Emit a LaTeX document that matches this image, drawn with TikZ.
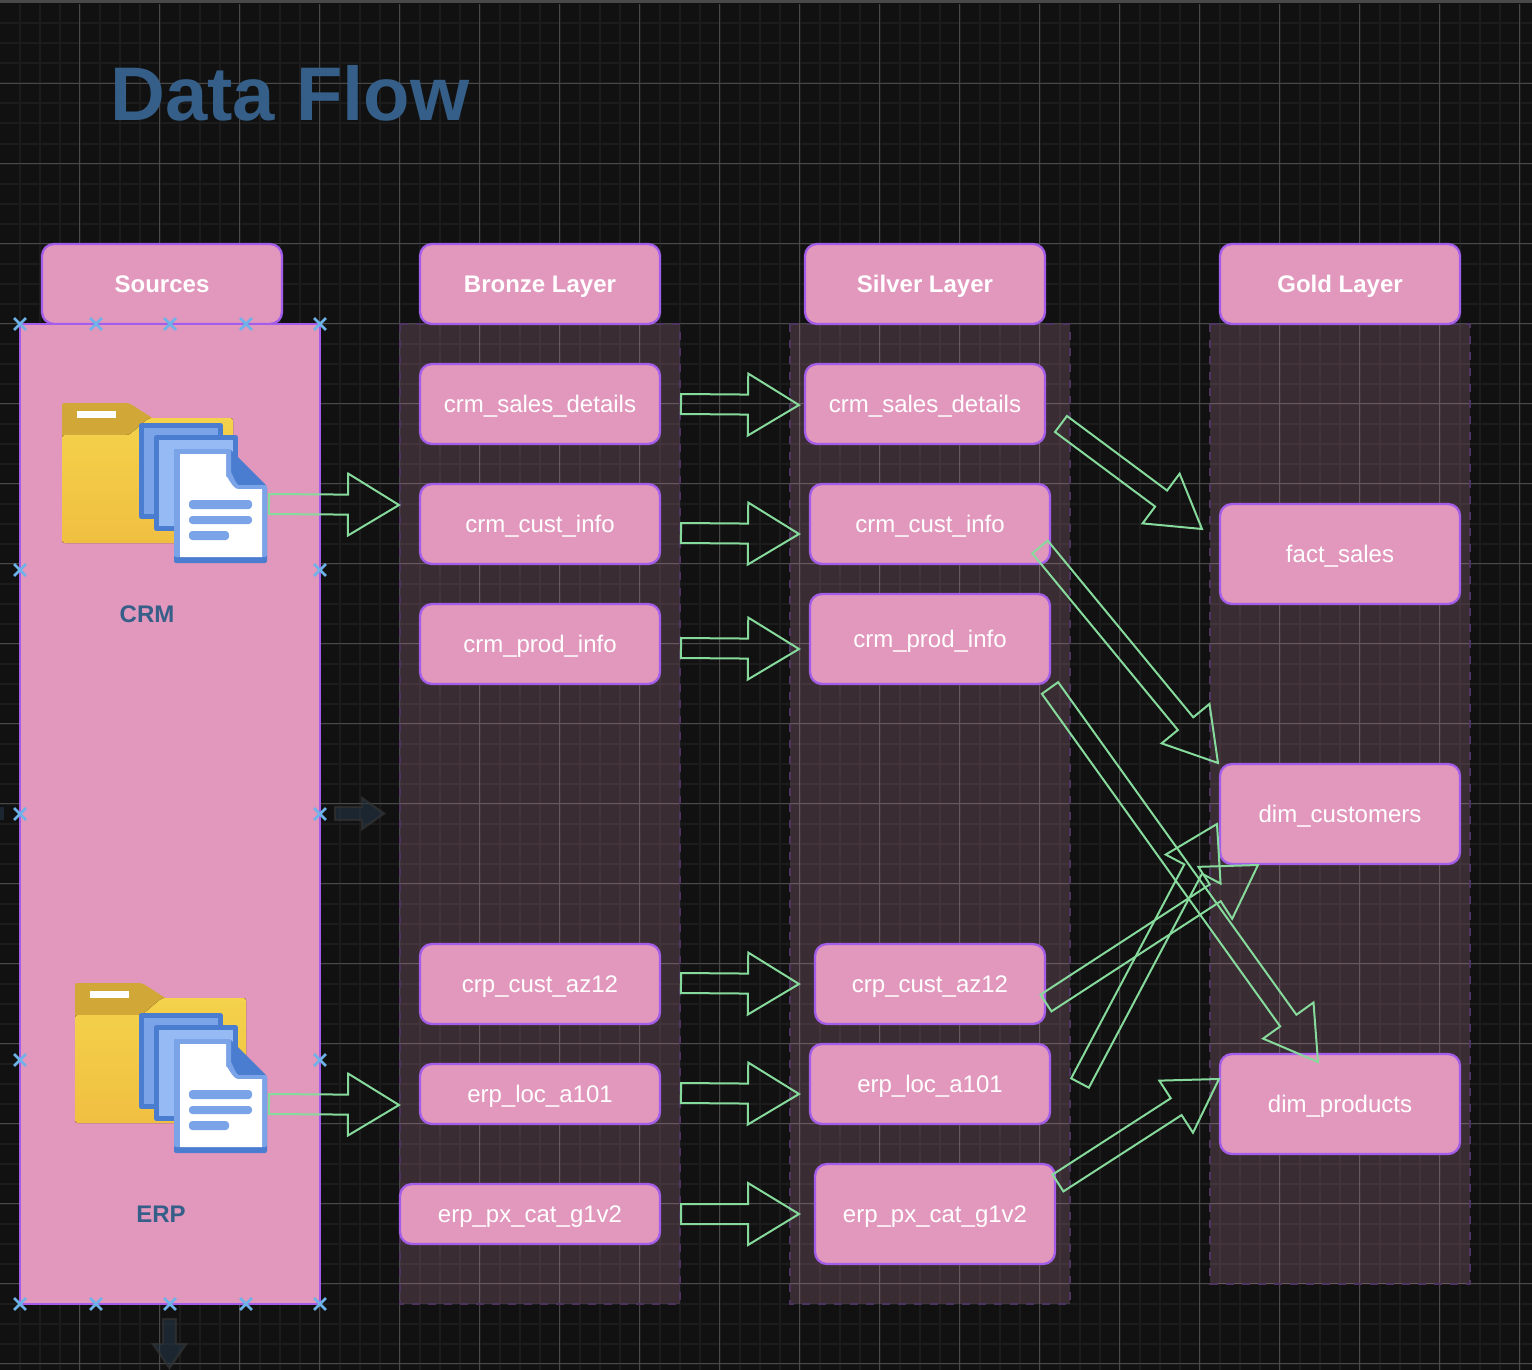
\documentclass[tikz,border=0pt]{standalone}
\usepackage{fontspec}
\setmainfont{Liberation Sans}
\usetikzlibrary{calc,shapes.misc}
\definecolor{canvas}{HTML}{111111}
\definecolor{gridminor}{HTML}{1C1C1C}
\definecolor{gridmajor}{HTML}{494949}
\definecolor{boxpink}{HTML}{E298BD}
\definecolor{boxline}{HTML}{A45DE8}
\definecolor{panelline}{HTML}{4E3460}
\definecolor{flowgreen}{HTML}{86DB9C}
\definecolor{titleblue}{HTML}{355F88}
\definecolor{handleblue}{HTML}{6DB2E8}
\definecolor{ghostfill}{HTML}{24394A}
\definecolor{ghostline}{HTML}{333333}
\definecolor{tabgold}{HTML}{D1A738}
\definecolor{foldertop}{HTML}{F4D24B}
\definecolor{folderbot}{HTML}{F0BF41}
\definecolor{docline}{HTML}{4A7CCF}
\definecolor{docback}{HTML}{7AA3E8}
\definecolor{docmid}{HTML}{96BAF3}
\tikzset{
  flowbox/.style={rectangle, rounded corners=9pt, draw=boxline, fill=boxpink, line width=1.7pt,
    minimum width=180pt, minimum height=60pt, inner sep=0pt, outer sep=0pt, text=white,
    text height=13.5pt, text depth=1.5pt, font=\fontsize{18}{20}\selectfont},
  headbox/.style={flowbox, font=\fontsize{18}{20}\selectfont\bfseries},
  sized/.style 2 args={minimum width=#1*0.75pt, minimum height=#2*0.75pt},
  panel/.style={draw=panelline, dash pattern=on 6pt off 6pt, fill=boxpink, fill opacity=0.2, line width=1pt},
  handle/.style={cross out, draw=handleblue, line width=1.9pt, minimum size=7pt, inner sep=0pt},
  ghost/.style={fill=ghostfill, fill opacity=0.55, draw=ghostline, draw opacity=0.7, line width=1.8pt},
  flowarrow/.style={draw=flowgreen, line width=1.5pt, line join=miter, to path={
    ($(\tikztotarget)!38.25pt!(\tikztostart)$) coordinate (hb)
    ($(\tikztostart)!7.5pt!90:(\tikztotarget)$)
    -- ($(hb)!7.5pt!90:(\tikztotarget)$) -- ($(hb)!23.25pt!90:(\tikztotarget)$)
    -- (\tikztotarget)
    -- ($(hb)!23.25pt!-90:(\tikztotarget)$) -- ($(hb)!7.5pt!-90:(\tikztotarget)$)
    -- ($(\tikztostart)!7.5pt!-90:(\tikztotarget)$) -- cycle}},
  folder/.pic={
    \fill[tabgold, rounded corners=1.5pt] (0,0) -- (67,0) -- (92,16) -- (92,40) -- (0,40) -- cycle;
    \fill[white] (15,8) rectangle (54,15);
    \fill[top color=foldertop, bottom color=folderbot, rounded corners=2pt]
      (0,32) -- (67,32) -- (87,15) -- (171,15) -- (171,140) -- (0,140) -- cycle;
  },
  docs/.pic={
    \draw[docline, fill=docback, line width=3.75pt, line join=round] (-32.5,-23.5) rectangle (46.5,67.5);
    \draw[docline, fill=docmid, line width=3.75pt, line join=round] (-17.5,-11.5) rectangle (61.5,79.5);
    \fill[docline, rounded corners=1.5pt] (0,0) -- (56,0) -- (93,37) -- (93,114) -- (0,114) -- cycle;
    \fill[docback, rounded corners=1.5pt] (0,0) -- (57,0) -- (57,26) to[out=90,in=180] (67,36) -- (93,36) -- (93,108) -- (0,108) -- cycle;
    \fill[white] (6,5) -- (52,5) -- (52,29) to[out=90,in=180] (64,40) -- (88,40) -- (88,108) -- (6,108) -- cycle;
    \fill[docback, rounded corners=2.5pt] (15,51) rectangle (78,60);
    \fill[docback, rounded corners=2.5pt] (15,67) rectangle (78,75);
    \fill[docback, rounded corners=2.5pt] (15,82) rectangle (55,91);
  },
}
\begin{document}
\begin{tikzpicture}[x=0.75pt,y=-0.75pt]
  \useasboundingbox (0,0) rectangle (1532,1370);
  \fill[canvas] (0,0) rectangle (1532,1370);
  % grid
  \foreach \gx in {19.5,39.5,...,1530} { \draw[gridminor, line width=1.5pt] (\gx,4) -- (\gx,1370); }
  \foreach \gy in {23.5,43.5,...,1370} { \draw[gridminor, line width=1.5pt] (0,\gy) -- (1532,\gy); }
  \foreach \gx in {79.5,159.5,...,1530} { \draw[gridmajor, line width=0.75pt] (\gx,4) -- (\gx,1370); }
  \foreach \gy in {83.5,163.5,...,1370} { \draw[gridmajor, line width=0.75pt] (0,\gy) -- (1532,\gy); }
  \fill[gridmajor] (0,0) rectangle (1532,3);

  \node[anchor=base west, inner sep=0pt, text=titleblue, font=\fontsize{57}{60}\selectfont\bfseries] (title) at (110,120) {Data Flow};

  % layer panels
  \draw[panel] (400,324) rectangle (680,1304);
  \draw[panel] (790,324) rectangle (1070,1304);
  \draw[panel] (1210,324) rectangle (1470,1284);

  % sources
  \node[headbox] (sources) at (162,284) {Sources};
  \node[flowbox, rounded corners=0pt, sized={300}{980}] (srcblock) at (170,814) {};
  \pic at (62,403) {folder};
  \pic at (174,449) {docs};
  \pic at (75,983) {folder};
  \pic at (174,1039) {docs};
  \node[text=titleblue, font=\fontsize{18}{20}\selectfont\bfseries] (crm) at (147,614) {CRM};
  \node[text=titleblue, font=\fontsize{18}{20}\selectfont\bfseries] (erp) at (161,1214) {ERP};

  % headers
  \node[headbox] (bronze) at (540,284) {Bronze Layer};
  \node[headbox] (silver) at (925,284) {Silver Layer};
  \node[headbox] (gold) at (1340,284) {Gold Layer};

  % bronze tables
  \node[flowbox] (b1) at (540,404) {crm\_sales\_details};
  \node[flowbox] (b2) at (540,524) {crm\_cust\_info};
  \node[flowbox] (b3) at (540,644) {crm\_prod\_info};
  \node[flowbox] (b4) at (540,984) {crp\_cust\_az12};
  \node[flowbox, sized={240}{60}] (b5) at (540,1094) {erp\_loc\_a101};
  \node[flowbox, sized={260}{60}] (b6) at (530,1214) {erp\_px\_cat\_g1v2};

  % silver tables
  \node[flowbox] (s1) at (925,404) {crm\_sales\_details};
  \node[flowbox] (s2) at (930,524) {crm\_cust\_info};
  \node[flowbox, sized={240}{90}] (s3) at (930,639) {crm\_prod\_info};
  \node[flowbox, sized={230}{80}] (s4) at (930,984) {crp\_cust\_az12};
  \node[flowbox] (s5) at (930,1084) {erp\_loc\_a101};
  \node[flowbox, sized={240}{100}] (s6) at (935,1214) {erp\_px\_cat\_g1v2};

  % gold tables
  \node[flowbox, sized={240}{100}] (g1) at (1340,554) {fact\_sales};
  \node[flowbox, sized={240}{100}] (g2) at (1340,814) {dim\_customers};
  \node[flowbox, sized={240}{100}] (g3) at (1340,1104) {dim\_products};

  % resize handles
  \foreach \hx [count=\hi] in {20,96,170,246,320} {
    \node[handle] (ht\hi) at (\hx,324) {};
    \node[handle] (hb\hi) at (\hx,1304) {};
  }
  \foreach \hy [count=\hi] in {570,814,1060} {
    \node[handle] (hl\hi) at (20,\hy) {};
    \node[handle] (hr\hi) at (320,\hy) {};
  }

  % faint arrows
  \draw[ghost] (335,807) -- (362,807) -- (362,798) -- (384,813.5) -- (362,829) -- (362,820) -- (335,820) -- cycle;
  \draw[ghost] (163,1319) -- (176,1319) -- (176,1344) -- (186,1344) -- (169.5,1368) -- (153,1344) -- (163,1344) -- cycle;
  \fill[ghostfill, fill opacity=0.55] (0,807) rectangle (4,820);

  % arrow ends
  \coordinate (crmout) at (269,504);
  \coordinate (erpout) at (269,1104);
  \coordinate (crmin) at (399,505);
  \coordinate (erpin) at (399,1105);
  \foreach \an/\ay/\atip in {1/404/405,2/533/534,3/648/649,4/983/984,5/1093/1094,6/1214/1214} {
    \coordinate (b\an out) at (681,\ay);
    \coordinate (s\an in) at (799,\atip);
  }
  \coordinate (salesout) at (1061,424);
  \coordinate (custout) at (1040,547);
  \coordinate (prodout) at (1050,688);
  \coordinate (azout) at (1046,1003);
  \coordinate (locout) at (1080,1083);
  \coordinate (catout) at (1058,1183);
  \coordinate (factin) at (1202,529);
  \coordinate (dimcustin) at (1218,763);
  \coordinate (dimcustaz) at (1258,865);
  \coordinate (dimcustloc) at (1217,824);
  \coordinate (dimprodin) at (1318,1062);
  \coordinate (dimprodcat) at (1219,1079);

  % block arrows
  \draw[flowarrow] (crmout) to (crmin);
  \draw[flowarrow] (erpout) to (erpin);
  \foreach \an in {1,...,6} {
    \draw[flowarrow] (b\an out) to (s\an in);
  }
  \draw[flowarrow] (salesout) to (factin);
  \draw[flowarrow] (custout) to (dimcustin);
  \draw[flowarrow] (prodout) to (dimprodin);
  \draw[flowarrow] (azout) to (dimcustaz);
  \draw[flowarrow] (locout) to (dimcustloc);
  \draw[flowarrow] (catout) to (dimprodcat);
\end{tikzpicture}
\end{document}
